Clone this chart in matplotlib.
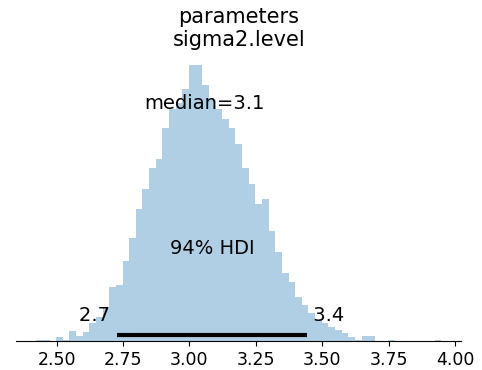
import numpy as np
import matplotlib
matplotlib.use("Agg")
import matplotlib.pyplot as plt

# ---- data ----
title_lines = ["parameters", "sigma2.level"]
bin_start = 2.4232
bin_width = 0.025
counts = [1, 1, 0, 3, 1, 8, 4, 7, 14, 19,
          26, 43, 45, 64, 82, 105, 121, 138, 145, 170,
          185, 190, 201, 220, 220, 204, 192, 185, 177, 170,
          157, 138, 125, 109, 113, 88, 71, 54, 47, 35,
          29, 22, 17, 14, 11, 9, 6, 3, 1, 4,
          4, 0, 0, 1, 0, 0, 0, 0, 0, 0,
          1]
hdi_low, hdi_high = 2.726, 3.4435
hdi_labels = ["2.7", "3.4"]
hdi_text = "94% HDI"
median_value = 3.058
median_label = "median=3.1"
xtick_values = [2.50, 2.75, 3.00, 3.25, 3.50, 3.75, 4.00]
xtick_labels = ["2.50", "2.75", "3.00", "3.25", "3.50", "3.75", "4.00"]

# ---- figure ----
fig = plt.figure(figsize=(4.82, 3.70), dpi=100)
ax = fig.add_axes([16 / 482, 29 / 370, 445.5 / 482, 289.8 / 370])

edges = bin_start + bin_width * np.arange(len(counts) + 1)
centers = (edges[:-1] + edges[1:]) / 2
ax.hist(centers, bins=edges, weights=counts, color="C0", alpha=0.35)

plot_height = ax.get_ylim()[1]
text_size = 14

ax.plot([hdi_low, hdi_high], [plot_height * 0.02] * 2, lw=3, color="k",
        solid_capstyle="butt")
ax.text(hdi_low, plot_height * 0.07, hdi_labels[0] + " ", size=text_size,
        ha="right")
ax.text(hdi_high, plot_height * 0.07, " " + hdi_labels[1], size=text_size,
        ha="left")
ax.text((hdi_low + hdi_high) / 2, plot_height * 0.3, hdi_text,
        size=text_size, ha="center")
ax.text(median_value, plot_height * 0.8, median_label, size=text_size,
        ha="center")

ax.set_title("\n".join(title_lines), fontsize=15, pad=3.4)

ax.set_xticks(xtick_values)
ax.set_xticklabels(xtick_labels, fontsize=12.5)
ax.set_yticks([])
for side in ("left", "right", "top"):
    ax.spines[side].set_visible(False)

fig.savefig("out.png", dpi=100)
